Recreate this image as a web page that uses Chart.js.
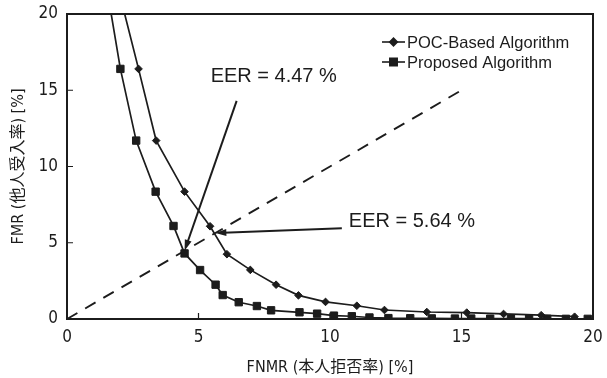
<!DOCTYPE html>
<html>
<head>
<meta charset="utf-8">
<script src="https://cdn.jsdelivr.net/npm/chart.js@4/dist/chart.umd.min.js"></script>
<style>
  html, body { margin: 0; padding: 0; background: #fff; }
  #wrap { width: 607px; height: 378px; }
</style>
</head>
<body>
<div id="wrap"><canvas id="det"></canvas></div>
<script>
// DET curves: FNMR vs FMR
const fnmrPoc = [1.9, 2.72, 3.39, 4.47, 5.44, 6.08, 6.97, 7.95, 8.8, 9.83, 11.02, 12.07, 13.68, 15.2, 16.6, 18.03, 19.3];
const fmrPoc  = [22.0, 16.4, 11.7, 8.35, 6.08, 4.25, 3.22, 2.25, 1.55, 1.12, 0.87, 0.59, 0.46, 0.42, 0.33, 0.25, 0.15];

const fnmrProposed = [1.35, 2.03, 2.63, 3.37, 4.05, 4.47, 5.06, 5.65, 5.92, 6.53, 7.22, 7.76, 8.84, 9.51, 10.15, 10.83, 11.5, 12.22, 13.05, 13.87, 14.75, 15.37, 16.09, 16.88, 17.57, 18.26, 18.97, 19.8];
const fmrProposed  = [23.4, 16.4, 11.7, 8.35, 6.1, 4.3, 3.21, 2.25, 1.57, 1.1, 0.85, 0.57, 0.44, 0.35, 0.22, 0.18, 0.1, 0.06, 0.05, 0.04, 0.03, 0.03, 0.02, 0.02, 0.02, 0.01, 0.01, 0.01];

const seriesNames = ["POC-Based Algorithm", "Proposed Algorithm"];
const diagonal = [0, 15]; // EER line y = x
const axisTicks = [0, 5, 10, 15, 20];

// annotations: label, arrow tip and arrow tail in data units
const eerNotes = [
  { text: "EER = 4.47 %", tip: [4.47, 4.47], tail: [6.45, 14.3] },
  { text: "EER = 5.64 %", tip: [5.64, 5.64], tail: [10.45, 5.95] }
];

const ink = "#1c1c1c";
const tickFont = "'DejaVu Sans Condensed', 'Liberation Sans', sans-serif";
const titleFont = "'DejaVu Sans Condensed', 'Noto Sans CJK JP', sans-serif";

const toXY = (xs, ys) => xs.map((x, i) => ({ x: x, y: ys[i] }));

// frame, inward ticks, legend, EER arrows
const decor = {
  id: "decor",
  afterDatasetsDraw(chart) {
    const { ctx, chartArea: a, scales } = chart;
    const sx = scales.x, sy = scales.y;
    ctx.save();
    ctx.strokeStyle = ink;
    ctx.lineWidth = 2;
    ctx.strokeRect(a.left, a.top, a.right - a.left, a.bottom - a.top);

    // inward tick marks
    ctx.lineWidth = 1.2;
    ctx.beginPath();
    axisTicks.slice(1, -1).forEach(v => {
      const px = sx.getPixelForValue(v);
      ctx.moveTo(px, a.bottom); ctx.lineTo(px, a.bottom - 6);
      const py = sy.getPixelForValue(v);
      ctx.moveTo(a.left, py); ctx.lineTo(a.left + 6, py);
    });
    ctx.stroke();

    // arrows + labels
    ctx.fillStyle = ink;
    ctx.font = "20px 'Liberation Sans', Arial, sans-serif";
    ctx.textBaseline = "middle";
    ctx.textAlign = "left";
    eerNotes.forEach((n, i) => {
      const x1 = sx.getPixelForValue(n.tail[0]), y1 = sy.getPixelForValue(n.tail[1]);
      const x2 = sx.getPixelForValue(n.tip[0]), y2 = sy.getPixelForValue(n.tip[1]);
      const ang = Math.atan2(y2 - y1, x2 - x1);
      ctx.lineWidth = 2;
      ctx.beginPath();
      ctx.moveTo(x1, y1);
      ctx.lineTo(x2 - 8 * Math.cos(ang), y2 - 8 * Math.sin(ang));
      ctx.stroke();
      ctx.beginPath();
      ctx.moveTo(x2, y2);
      ctx.lineTo(x2 - 11 * Math.cos(ang) + 3.5 * Math.sin(ang), y2 - 11 * Math.sin(ang) - 3.5 * Math.cos(ang));
      ctx.lineTo(x2 - 11 * Math.cos(ang) - 3.5 * Math.sin(ang), y2 - 11 * Math.sin(ang) + 3.5 * Math.cos(ang));
      ctx.closePath();
      ctx.fill();
      if (i === 0) ctx.fillText(n.text, x1 - 26, y1 - 24);
      else ctx.fillText(n.text, x1 + 7, y1 - 7);
    });

    // legend
    ctx.font = "16.5px 'Liberation Sans', Arial, sans-serif";
    chart.data.datasets.slice(0, 2).forEach((ds, i) => {
      const ly = a.top + 28 + i * 20;
      const lx = 382;
      ctx.strokeStyle = ink;
      ctx.lineWidth = 1.6;
      ctx.beginPath();
      ctx.moveTo(lx, ly); ctx.lineTo(lx + 23, ly);
      ctx.stroke();
      Chart.helpers.drawPoint(ctx, {
        pointStyle: ds.pointStyle, radius: ds.pointRadius, rotation: 0, borderWidth: 1
      }, lx + 11.5, ly);
      ctx.fillStyle = ink;
      ctx.fillText(ds.label, lx + 25, ly + 1);
    });
    ctx.restore();
  }
};

new Chart(document.getElementById("det"), {
  type: "scatter",
  data: {
    datasets: [
      {
        label: seriesNames[0],
        data: toXY(fnmrPoc, fmrPoc),
        showLine: true,
        borderColor: ink, backgroundColor: ink,
        borderWidth: 1.7,
        pointStyle: "rectRot", pointRadius: 3.8,
        pointBorderWidth: 1
      },
      {
        label: seriesNames[1],
        data: toXY(fnmrProposed, fmrProposed),
        showLine: true,
        borderColor: ink, backgroundColor: ink,
        borderWidth: 1.7,
        pointStyle: "rect", pointRadius: 5.2,
        pointBorderWidth: 1
      },
      {
        label: "EER",
        data: toXY(diagonal, diagonal),
        showLine: true,
        borderColor: ink,
        borderWidth: 1.9,
        borderDash: [12, 9],
        pointRadius: 0
      }
    ]
  },
  options: {
    responsive: true,
    maintainAspectRatio: false,
    animation: false,
    layout: { padding: { top: 14, right: 14, left: 0, bottom: 0 } },
    plugins: { legend: { display: false }, tooltip: { enabled: false } },
    scales: {
      x: {
        type: "linear", min: 0, max: 20,
        afterFit: s => { s.height = 59; s.paddingLeft = 0; s.paddingRight = 0; },
        border: { display: false },
        grid: { display: false, drawTicks: false },
        ticks: { stepSize: 5, padding: 8, color: ink, font: { family: tickFont, size: 17 } },
        title: { display: true, text: "FNMR (本人拒否率) [%]", color: ink, padding: { top: 0, bottom: 1 },
                 font: { family: titleFont, size: 16 } }
      },
      y: {
        type: "linear", min: 0, max: 20,
        afterFit: s => { s.width = 67; s.paddingTop = 0; s.paddingBottom = 0; },
        border: { display: false },
        grid: { display: false, drawTicks: false },
        ticks: { stepSize: 5, padding: 9, color: ink, font: { family: tickFont, size: 17 } },
        title: { display: true, text: "FMR (他人受入率) [%]", color: ink, padding: { top: 9, bottom: 0 },
                 font: { family: titleFont, size: 16 } }
      }
    }
  },
  plugins: [decor]
});
</script>
</body>
</html>
